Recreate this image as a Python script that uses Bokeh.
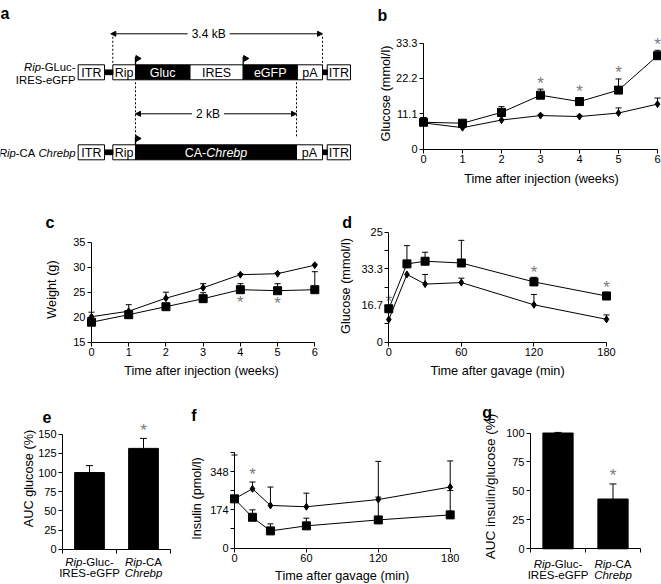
import math
from bokeh.plotting import figure
from bokeh.models import Range1d, LinearAxis, FixedTicker, Arrow, NormalHead
from bokeh.core.properties import value
from bokeh.embed import file_html
from bokeh.resources import INLINE

FONT = "Liberation Sans"
TICK_FS = "11px"
LAB_FS = 12.7
AST_COLOR = "#7a7a7a"

# ---------------- data ----------------
weeks = [0, 1, 2, 3, 4, 5, 6]
week_labels = ["0", "1", "2", "3", "4", "5", "6"]
minutes = [0, 15, 30, 60, 120, 180]
min_ticks = [0, 60, 120, 180]
min_labels = ["0", "60", "120", "180"]

# b: fasting glucose (mmol/l)
b_chrebp = [8.4, 8.1, 11.5, 16.9, 14.9, 18.5, 29.3]
b_chrebp_err = [1.5, 0.5, 1.8, 1.9, 1.2, 3.5, 1.7]
b_ctrl = [8.2, 6.7, 9.1, 10.5, 10.2, 11.3, 14.1]
b_ctrl_err = [1.7, 0.6, 1.1, 0.4, 0.4, 1.6, 1.9]
b_sig = [3, 4, 5, 6]
b_yticks = [0, 11.1, 22.2, 33.3]
b_ylabels = ["0", "11.1", "22.2", "33.3"]

# c: body weight (g)
c_chrebp = [19.0, 20.5, 22.1, 23.7, 25.5, 25.3, 25.5]
c_chrebp_err = [0.3, 0.2, 0.3, 1.2, 1.2, 1.4, 3.6]
c_ctrl = [20.1, 21.2, 23.8, 25.9, 28.5, 28.7, 30.4]
c_ctrl_err = [0.9, 1.3, 1.2, 0.8, 0.2, 0.2, 0.2]
c_sig = [4, 5]
c_yticks = [15, 20, 25, 30, 35]
c_ylabels = ["15", "20", "25", "30", "35"]

# d: OGTT glucose
d_chrebp = [15.2, 35.6, 36.8, 36.0, 27.4, 21.0]
d_chrebp_err = [1.0, 8.3, 4.1, 10.3, 2.1, 1.7]
d_ctrl = [10.3, 30.8, 26.4, 27.1, 17.0, 10.4]
d_ctrl_err = [0.0, 0.0, 4.4, 2.0, 4.7, 2.0]
d_sig = [0, 120, 180]
d_yticks = [0, 8.35, 16.7, 25, 33.3, 41.65, 50]
d_ylabels = ["0", "", "16.7", "", "33.3", "", "25"]

# f: insulin (pmol/l)
f_ctrl = [224, 270, 194, 188, 221, 278]
f_ctrl_err = [200, 31, 84, 62, 174, 119]
f_chrebp = [224, 140, 78, 101, 128, 151]
f_chrebp_err = [0, 34, 32, 35, 104, 111]
f_sig = [15]
f_yticks = [0, 87, 174, 261, 348, 435]
f_ylabels = ["0", "", "174", "", "348", ""]

# e / g: AUC bars
group_pos = [0.5, 1.5]
group_line1 = [[("Rip", "italic"), ("-Gluc-", "normal")], [("Rip", "italic"), ("-CA", "normal")]]
group_line2 = [[("IRES-eGFP", "normal")], [("Chrebp", "italic")]]
e_auc = [100, 131.5]
e_err = [9, 13]
e_sig = [1]
e_yticks = [0, 25, 50, 75, 100, 125, 150]
g_auc = [100, 43]
g_err = [0.5, 13]
g_sig = [1]
g_yticks = [0, 25, 50, 75, 100]

# a: construct schematic (element names, lengths in drawing units)
a_row1_names = ["ITR", "", "Rip", "Gluc", "IRES", "eGFP", "pA", "", "ITR"]
a_row1_lens = [26.3, 8.3, 22.7, 54.3, 53.4, 54.0, 25.3, 4.7, 23.3]
a_row1_kind = ["box", "link", "box", "dark", "box", "dark", "box", "link", "box"]
a_row2_names = ["ITR", "", "Rip", "CA-Chrebp", "pA", "", "ITR"]
a_row2_lens = [26.3, 8.3, 22.7, 161.0, 26.0, 4.7, 23.3]
a_row2_kind = ["box", "link", "box", "dark", "box", "link", "box"]
a_row1_label = [[("Rip", "italic"), ("-GLuc-", "normal")], [("IRES-eGFP", "normal")]]
a_row2_label = [("Rip", "italic"), ("-CA ", "normal"), ("Chrebp", "italic")]
a_dim_long = "3.4 kB"
a_dim_short = "2 kB"

# ---------------- helpers ----------------
AW = {' ': 278, '-': 333, '.': 278, '/': 278, '(': 333, ')': 333, '%': 889,
      '0': 556, '1': 556, '2': 556, '3': 556, '4': 556, '5': 556, '6': 556, '7': 556, '8': 556, '9': 556,
      'A': 667, 'B': 667, 'C': 722, 'E': 667, 'F': 611, 'G': 778, 'I': 278, 'L': 556, 'P': 667,
      'R': 722, 'S': 667, 'T': 611, 'U': 722,
      'a': 556, 'b': 556, 'c': 500, 'e': 556, 'h': 556, 'i': 222, 'k': 500, 'l': 222, 'n': 556,
      'p': 556, 'r': 333, 'u': 556, 'o': 556, 's': 500}


def tw(s, size):
    return sum(AW.get(ch, 556) for ch in s) / 1000.0 * size


REF_W, REF_H = 661, 584
W, H = 661, 584

p = figure(width=W, height=H, x_range=Range1d(0, REF_W), y_range=Range1d(REF_H, 0),
           x_axis_type=None, y_axis_type=None, output_backend="svg", toolbar_location=None,
           title=None, min_border_left=0, min_border_right=0, min_border_top=0, min_border_bottom=0)
p.outline_line_color = None
p.background_fill_color = "white"
p.border_fill_color = "white"
p.xgrid.visible = False
p.ygrid.visible = False


def add_panel(name, xa, ya):
    (d0, px0), (d1, px1) = xa
    k = (px1 - px0) / (d1 - d0)
    (v0, py0), (v1, py1) = ya
    ky = (py0 - py1) / (v1 - v0)
    xr = dict(p.extra_x_ranges)
    xr[name] = Range1d(d0 - px0 / k, d0 + (REF_W - px0) / k)
    p.extra_x_ranges = xr
    yr = dict(p.extra_y_ranges)
    yr[name] = Range1d(v0 - (REF_H - py0) / ky, v0 + py0 / ky)
    p.extra_y_ranges = yr
    return dict(x_range_name=name, y_range_name=name)


def style_axis(ax):
    ax.major_label_text_font = FONT
    ax.major_label_text_font_size = TICK_FS
    ax.major_label_text_color = "black"
    ax.major_label_standoff = 2
    ax.major_tick_in = 0
    ax.major_tick_out = 4
    ax.minor_tick_line_color = None
    ax.axis_line_color = "black"
    ax.major_tick_line_color = "black"


def axes(name, xticks, xlabels, xbounds, yticks, ylabels, ybounds):
    yax = LinearAxis(x_range_name=name, y_range_name=name, fixed_location=xbounds[0], bounds=ybounds,
                     ticker=FixedTicker(ticks=yticks), major_label_overrides=dict(zip(yticks, ylabels)))
    style_axis(yax)
    p.add_layout(yax, "left")
    xax = LinearAxis(x_range_name=name, y_range_name=name, fixed_location=ybounds[0], bounds=xbounds,
                     ticker=FixedTicker(ticks=xticks), major_label_overrides=dict(zip(xticks, xlabels)))
    style_axis(xax)
    p.add_layout(xax, "below")


def txt(x, y, s, size, style="normal", color="black", align="center", baseline="middle", angle=0.0, **kw):
    p.text(x=[x], y=[y], text=[s], text_font=value(FONT), text_font_size=f"{size}px",
           text_font_style=style, text_color=color, text_align=align, text_baseline=baseline,
           angle=angle, **kw)


def runs(pieces, x, y, size, align="right", color="black", **kw):
    widths = [tw(t, size) for t, _ in pieces]
    total = sum(widths)
    off = -total if align == "right" else -total / 2.0
    for (t, st), w in zip(pieces, widths):
        p.text(x=[x], y=[y], text=[t], x_offset=off, text_font=value(FONT), text_font_size=f"{size}px",
               text_font_style=st, text_color=color, text_align="left", text_baseline="middle", **kw)
        off += w


def errbars(x, y, err, kw, cap=6):
    xs = [a for a, e in zip(x, err) if e > 0]
    y0 = [b for b, e in zip(y, err) if e > 0]
    y1 = [b + e for b, e in zip(y, err) if e > 0]
    p.segment(x0=xs, y0=y0, x1=xs, y1=y1, line_color="black", line_width=1, **kw)
    p.scatter(x=xs, y=y1, marker="dash", size=cap, line_color="black", line_width=1, **kw)


def asterisks(xs, ys, yoff, kw):
    p.text(x=xs, y=ys, text=["*"] * len(xs), text_font=value(FONT), text_font_size="17px",
           text_color=AST_COLOR, text_align="center", text_baseline="alphabetic", y_offset=yoff, **kw)


def draw_series(x, sq, sq_err, dm, dm_err, kw):
    errbars(x, sq, sq_err, kw)
    errbars(x, dm, dm_err, kw)
    p.line(x, sq, line_color="black", line_width=1, **kw)
    p.line(x, dm, line_color="black", line_width=1, **kw)
    p.scatter(x, dm, marker="diamond", size=7, fill_color="black", line_color="black", **kw)
    p.scatter(x, sq, marker="square", size=8, fill_color="black", line_color="black", **kw)


def letter(s, x, y):
    txt(x, y, s, 16, style="bold", align="left", baseline="alphabetic")


def ytitle(s, x, y, size=LAB_FS):
    txt(x, y, s, size, angle=math.pi / 2)


def xtitle(s, x, y, size=LAB_FS):
    txt(x, y, s, size)


# ---------------- panel a ----------------
X0 = 77.7
BOX_H = 15.0
ROW1_Y = 71.8
ROW2_Y = 151.8
FS_BOX = 12.5
FS_SIDE = 11.3


def build_row(names, lens, kinds, yc):
    lefts, rights = [], []
    x = X0
    for L in lens:
        lefts.append(x)
        x += L
        rights.append(x)
    for kind, fill, hh in (("box", "white", BOX_H), ("dark", "black", BOX_H), ("link", "black", 4.7)):
        idx = [i for i, k in enumerate(kinds) if k == kind]
        p.quad(left=[lefts[i] for i in idx], right=[rights[i] for i in idx],
               top=[yc - hh / 2] * len(idx), bottom=[yc + hh / 2] * len(idx),
               fill_color=fill, line_color="black", line_width=1)
    for i, (n, k) in enumerate(zip(names, kinds)):
        if not n or k == "link":
            continue
        cx = (lefts[i] + rights[i]) / 2.0
        col = "white" if k == "dark" else "black"
        if n == "CA-Chrebp":
            runs([("CA-", "normal"), ("Chrebp", "italic")], cx, yc + 0.5, FS_BOX, "center", col)
        else:
            txt(cx, yc + 0.5, n, FS_BOX, color=col)
    return lefts, rights


l1, r1 = build_row(a_row1_names, a_row1_lens, a_row1_kind, ROW1_Y)
l2, r2 = build_row(a_row2_names, a_row2_lens, a_row2_kind, ROW2_Y)


def promoter(x, top):
    p.segment(x0=[x], y0=[top], x1=[x], y1=[top - 8], line_color="black", line_width=1.3)
    p.scatter(x=[x + 2.2], y=[top - 6.3], marker="triangle", angle=-math.pi / 2, size=6,
              fill_color="black", line_color="black")


for nm in ("Gluc", "eGFP"):
    promoter(l1[a_row1_names.index(nm)], ROW1_Y - BOX_H / 2)
promoter(l2[a_row2_names.index("CA-Chrebp")], ROW2_Y - BOX_H / 2)

rip1 = l1[a_row1_names.index("Rip")]
pa_end = r1[a_row1_names.index("pA")]
gl_start = l1[a_row1_names.index("Gluc")]
ca_end = r2[a_row2_names.index("CA-Chrebp")]
DIM1_Y = 33.3
DIM2_Y = 113.3
for (xa, xb, yy, lab) in ((rip1 - 2, pa_end, DIM1_Y, a_dim_long), (gl_start, ca_end, DIM2_Y, a_dim_short)):
    cx = (xa + xb) / 2.0 - 8
    half = tw(lab, 12) / 2 + 4
    p.add_layout(Arrow(x_start=cx - half, y_start=yy, x_end=xa, y_end=yy, line_width=1,
                       end=NormalHead(size=5, fill_color="black", line_color="black")))
    p.add_layout(Arrow(x_start=cx + half, y_start=yy, x_end=xb, y_end=yy, line_width=1,
                       end=NormalHead(size=5, fill_color="black", line_color="black")))
    txt(cx, yy + 0.5, lab, 12)

p.segment(x0=[rip1, pa_end, gl_start, ca_end], y0=[DIM1_Y + 3, DIM1_Y + 3, ROW1_Y + 10, ROW1_Y + 10],
          x1=[rip1, pa_end, gl_start, ca_end], y1=[ROW1_Y - BOX_H / 2, ROW1_Y - BOX_H / 2, ROW2_Y - 14, ROW2_Y - 15],
          line_color="black", line_width=1, line_dash="2 2")

runs(a_row1_label[0], 75, ROW1_Y - 5.5, FS_SIDE)
runs(a_row1_label[1], 75, ROW1_Y + 7.5, FS_SIDE)
runs(a_row2_label, 75, ROW2_Y + 0.5, FS_SIDE)
letter("a", 0, 13)

# ---------------- panel b ----------------
kb = add_panel("b", ((0, 423), (6, 657)), ((0, 148.5), (33.3, 42.5)))
axes("b", weeks, week_labels, (0, 6), b_yticks, b_ylabels, (0, 33.3))
draw_series(weeks, b_chrebp, b_chrebp_err, b_ctrl, b_ctrl_err, kb)
asterisks(b_sig, [b_chrebp[i] + b_chrebp_err[i] for i in b_sig], -6, kb)
letter("b", 377, 15)
ytitle("Glucose (mmol/l)", 385, 93)
xtitle("Time after injection (weeks)", 541, 178)

# ---------------- panel c ----------------
kc = add_panel("c", ((0, 91), (6, 314.3)), ((15, 341.7), (35, 241.7)))
axes("c", weeks, week_labels, (0, 6), c_yticks, c_ylabels, (15, 35))
draw_series(weeks, c_chrebp, c_chrebp_err, c_ctrl, c_ctrl_err, kc)
asterisks(c_sig, [c_chrebp[i] for i in c_sig], 13, kc)
letter("c", 45, 221.7)
ytitle("Weight (g)", 51.7, 289)
xtitle("Time after injection (weeks)", 201, 370.7)

# ---------------- panel d ----------------
kd = add_panel("d", ((0, 388.3), (180, 606)), ((0, 341.7), (50, 231.7)))
axes("d", min_ticks, min_labels, (0, 180), d_yticks, d_ylabels, (0, 50))
draw_series(minutes, d_chrebp, d_chrebp_err, d_ctrl, d_ctrl_err, kd)
asterisks(d_sig, [d_chrebp[minutes.index(t)] + d_chrebp_err[minutes.index(t)] for t in d_sig], -5, kd)
letter("d", 341.7, 221.7)
ytitle("Glucose (mmol/l)", 345, 285.5)
xtitle("Time after gavage (min)", 497, 370)

# ---------------- panel e ----------------
ke = add_panel("e", ((0, 62), (2, 170)), ((0, 548.7), (150, 433.7)))
axes("e", [0, 1, 2], ["", "", ""], (0, 2), e_yticks, [str(t) for t in e_yticks], (0, 150))
p.vbar(x=group_pos, top=e_auc, width=0.55, fill_color="black", line_color="black", **ke)
errbars(group_pos, e_auc, e_err, ke, cap=7)
asterisks([group_pos[i] for i in e_sig], [e_auc[i] + e_err[i] for i in e_sig], -8, ke)
for gi, xc in enumerate(group_pos):
    runs(group_line1[gi], xc, 561, 11.5, "center", x_range_name="e")
    runs(group_line2[gi], xc, 572.7, 11.5, "center", x_range_name="e")
letter("e", 42, 416.7)
ytitle("AUC glucose (%)", 28.3, 478)

# ---------------- panel f ----------------
kf = add_panel("f", ((0, 234), (180, 449.7)), ((0, 547.5), (435, 452.1)))
axes("f", min_ticks, min_labels, (0, 180), f_yticks, f_ylabels, (0, 435))
draw_series(minutes, f_chrebp, f_chrebp_err, f_ctrl, f_ctrl_err, kf)
asterisks(f_sig, [f_ctrl[minutes.index(t)] + f_ctrl_err[minutes.index(t)] for t in f_sig], -7, kf)
letter("f", 190.7, 415)
ytitle("Insulin (pmol/l)", 196.7, 498)
xtitle("Time after gavage (min)", 341.7, 575.7)

# ---------------- panel g ----------------
kg = add_panel("g", ((0, 530), (2, 640)), ((0, 548.3), (100, 432.5)))
axes("g", [0, 1, 2], ["", "", ""], (0, 2), g_yticks, [str(t) for t in g_yticks], (0, 100))
p.vbar(x=group_pos, top=g_auc, width=0.55, fill_color="black", line_color="black", **kg)
errbars(group_pos, g_auc, g_err, kg, cap=7)
asterisks([group_pos[i] for i in g_sig], [g_auc[i] + g_err[i] for i in g_sig], -8, kg)
for gi, xc in enumerate(group_pos):
    runs(group_line1[gi], xc, 563.3, 11.5, "center", x_range_name="g")
    runs(group_line2[gi], xc, 574.3, 11.5, "center", x_range_name="g")
letter("g", 481.7, 411.7)
ytitle("AUC insulin/glucose (%)", 490, 486, size=13.5)

open("out.html", "w").write(file_html(p, INLINE))
